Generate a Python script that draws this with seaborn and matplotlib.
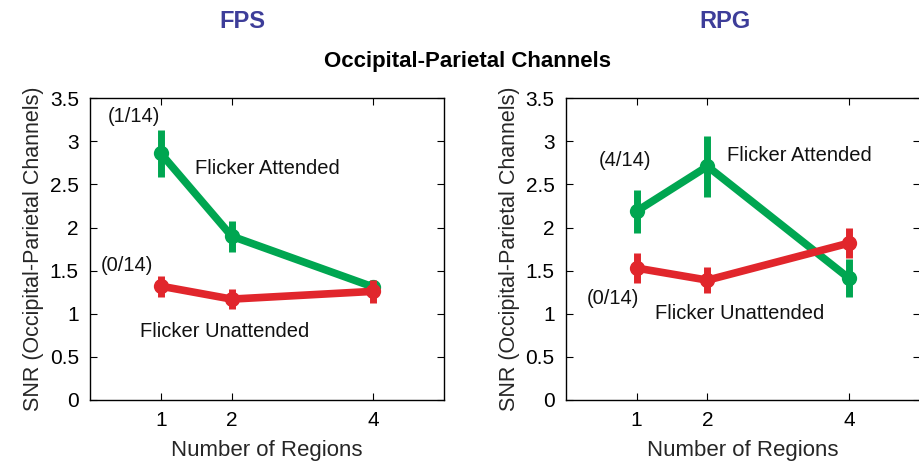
import matplotlib
matplotlib.use("Agg")
import matplotlib.pyplot as plt
import seaborn as sns
import pandas as pd

regions = [1, 2, 4]
fps_att = [2.86, 1.90, 1.31]
fps_att_err = [0.27, 0.18, 0.07]
fps_unatt = [1.32, 1.17, 1.26]
fps_unatt_err = [0.12, 0.12, 0.13]
rpg_att = [2.19, 2.71, 1.41]
rpg_att_err = [0.25, 0.35, 0.22]
rpg_unatt = [1.53, 1.39, 1.82]
rpg_unatt_err = [0.17, 0.15, 0.17]
yticks = [0, 0.5, 1, 1.5, 2, 2.5, 3, 3.5]
ytick_labels = ["0", "0.5", "1", "1.5", "2", "2.5", "3", "3.5"]

GREEN = "#00a651"
RED = "#e1262c"
TITLE_BLUE = "#3d3d99"

sns.set_theme(style="ticks")
plt.rcParams['font.family'] = ['Liberation Sans', 'DejaVu Sans']

fig = plt.figure(figsize=(9.2, 4.65), dpi=100)
ax1 = fig.add_axes([0.0978, 0.1398, 0.385, 0.649])
ax2 = fig.add_axes([0.615, 0.1398, 0.385, 0.649])

panels = [
    (ax1, fps_att, fps_att_err, fps_unatt, fps_unatt_err,
     [("(1/14)", 0.62, 3.29), ("Flicker Attended", 2.5, 2.69),
      ("(0/14)", 0.52, 1.56), ("Flicker Unattended", 1.9, 0.79)]),
    (ax2, rpg_att, rpg_att_err, rpg_unatt, rpg_unatt_err,
     [("(4/14)", 0.83, 2.78), ("Flicker Attended", 3.3, 2.84),
      ("(0/14)", 0.67, 1.18), ("Flicker Unattended", 2.46, 1.0)]),
]

for ax, att, atte, un, une, texts in panels:
    df = pd.DataFrame({
        "regions": regions * 2,
        "snr": att + un,
        "cond": ["att"] * 3 + ["un"] * 3,
    })
    sns.lineplot(data=df, x="regions", y="snr", hue="cond",
                 palette={"att": GREEN, "un": RED}, linewidth=5.5,
                 marker="o", markersize=11, markeredgewidth=0,
                 legend=False, ax=ax, zorder=3)
    ax.errorbar(regions, att, yerr=atte, fmt="none", ecolor=GREEN,
                elinewidth=5, capsize=0, zorder=4)
    ax.errorbar(regions, un, yerr=une, fmt="none", ecolor=RED,
                elinewidth=5, capsize=0, zorder=4)
    ax.set_xlim(0, 5)
    ax.set_ylim(0, 3.5)
    ax.set_xticks(regions)
    ax.set_xticklabels([str(r) for r in regions])
    ax.set_yticks(yticks)
    ax.set_yticklabels(ytick_labels)
    ax.tick_params(direction="in", top=True, right=True, length=5,
                   width=0.8, labelsize=15, pad=8, colors="black")
    for s in ax.spines.values():
        s.set_linewidth(1.0)
        s.set_color("black")
    ax.set_xlabel("Number of Regions", fontsize=16, labelpad=7)
    ax.set_ylabel("SNR (Occipital-Parietal Channels)", fontsize=15.5, labelpad=4)
    for t, x, y in texts:
        ax.text(x, y, t, fontsize=14.5, ha="center", va="center", color="#111111")

fig.text(242 / 920, 1 - 22 / 465, "FPS", fontsize=17, fontweight="bold",
         color=TITLE_BLUE, ha="center", va="center")
fig.text(725 / 920, 1 - 22 / 465, "RPG", fontsize=17, fontweight="bold",
         color=TITLE_BLUE, ha="center", va="center")
fig.text(468 / 920, 1 - 62 / 465, "Occipital-Parietal Channels", fontsize=16,
         fontweight="bold", color="black", ha="center", va="center")

fig.savefig("out.png", dpi=100)
